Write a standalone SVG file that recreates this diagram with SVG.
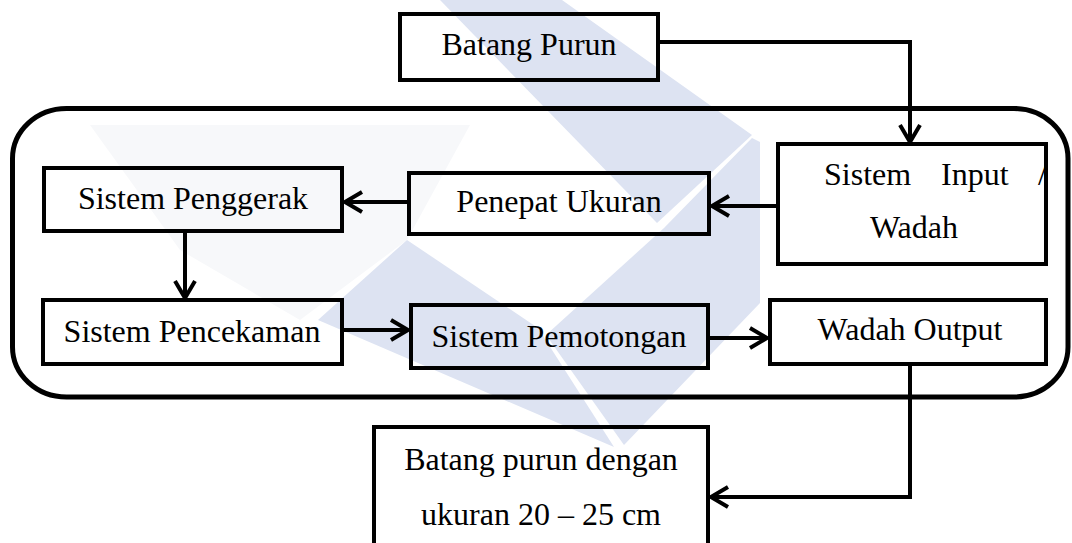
<svg xmlns="http://www.w3.org/2000/svg" width="1072" height="543" viewBox="0 0 1072 543">
<style>
.box{fill:none;stroke:#000;stroke-width:4}
.t{font-family:"Liberation Serif","Times New Roman",serif;font-size:32px;fill:#000}
.c{fill:none;stroke:#000;stroke-width:4}
.wm{fill:#dde3f2}
</style>
<defs>
<marker id="arr" viewBox="-20 -12 24 24" refX="0" refY="0" markerWidth="24" markerHeight="24" orient="auto" markerUnits="userSpaceOnUse">
<path d="M-17,-10 L0,0 L-17,10" fill="none" stroke="#000" stroke-width="4"/>
</marker>
</defs>
<rect width="1072" height="543" fill="#fff"/>
<g id="watermark">
<polygon fill="#f7f8fa" points="90,125 470,125 407,240 300,320 180,250"/>
<polygon class="wm" points="440,0 562,0 752,135 657,223"/>
<polygon class="wm" points="664,228 752,138 760,142 760,303 624,445 546,335"/>
<polygon class="wm" points="407,240 538,328 614,447 318,320"/>
</g>
<g id="outer"><rect x="12.5" y="108.5" width="1055.5" height="288.5" rx="54" ry="50" fill="none" stroke="#000" stroke-width="5"/></g>
<g id="batang-purun"><rect class="box" x="400" y="14" width="258" height="66"/><text class="t" x="529" y="55" text-anchor="middle">Batang Purun</text></g>
<g id="sistem-input"><rect class="box" x="778" y="144" width="268" height="120"/><text class="t" y="185"><tspan x="824">Sistem</tspan><tspan x="941">Input</tspan><tspan x="1038">/</tspan></text><text class="t" x="914" y="238" text-anchor="middle">Wadah</text></g>
<g id="penepat-ukuran"><rect class="box" x="409" y="173" width="300" height="61"/><text class="t" x="559" y="212" text-anchor="middle">Penepat Ukuran</text></g>
<g id="sistem-penggerak"><rect class="box" x="44" y="168" width="298" height="63"/><text class="t" x="193" y="209" text-anchor="middle">Sistem Penggerak</text></g>
<g id="sistem-pencekaman"><rect class="box" x="43" y="300" width="299" height="64"/><text class="t" x="192" y="342" text-anchor="middle">Sistem Pencekaman</text></g>
<g id="sistem-pemotongan"><rect class="box" x="411" y="305" width="297" height="63"/><text class="t" x="559" y="347" text-anchor="middle">Sistem Pemotongan</text></g>
<g id="wadah-output"><rect class="box" x="770" y="300" width="276" height="64"/><text class="t" x="910" y="340" text-anchor="middle">Wadah Output</text></g>
<g id="batang-purun-output"><rect class="box" x="374" y="427" width="334" height="140"/><text class="t" x="541" y="470" text-anchor="middle">Batang purun dengan</text><text class="t" x="541" y="525" text-anchor="middle">ukuran 20 – 25 cm</text></g>
<g id="connectors">
<path class="c" d="M660,42 H910 V142" marker-end="url(#arr)"/>
<path class="c" d="M776,206 H712" marker-end="url(#arr)"/>
<path class="c" d="M407,202 H345" marker-end="url(#arr)"/>
<path class="c" d="M185,233 V298" marker-end="url(#arr)"/>
<path class="c" d="M344,330 H408" marker-end="url(#arr)"/>
<path class="c" d="M710,338 H767" marker-end="url(#arr)"/>
<path class="c" d="M910,366 V497 H711" marker-end="url(#arr)"/>
</g>
</svg>
